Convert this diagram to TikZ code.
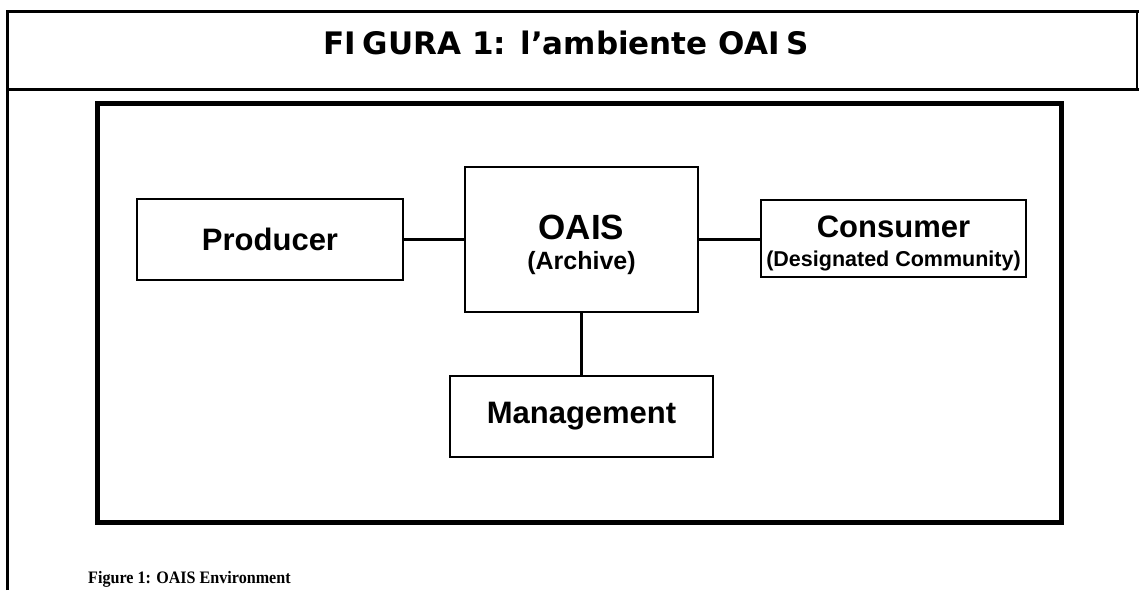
\documentclass[tikz,border=0pt]{standalone}
\usepackage{fontspec}
\usetikzlibrary{shadows}
\newfontfamily\arialf{Liberation Sans}
\newfontfamily\verdf{DejaVu Sans}
\newfontfamily\timesf{Liberation Serif}
\tikzset{
  box/.style={draw=black, line width=2.6pt, fill=white, inner sep=0pt,
    drop shadow={shadow xshift=1.2pt, shadow yshift=-1.2pt, fill=black, opacity=1}},
  conn/.style={draw=black, line width=2.6pt},
  rule/.style={draw=black, line width=3pt},
  lbl/.style={inner sep=0pt, anchor=center, font=\arialf\bfseries\fontsize{31}{31}\selectfont},
  sublbl/.style={inner sep=0pt, anchor=center, font=\arialf\bfseries\fontsize{25}{25}\selectfont},
}
\begin{document}
\begin{tikzpicture}[x=1pt,y=-1pt]
\useasboundingbox (0,0) rectangle (1139,590);
% page frame
\coordinate (tl) at (7,11);
\coordinate (tr) at (1139,11);
\coordinate (bl) at (7,590);
\coordinate (hl) at (7,89);
\coordinate (hr) at (1139,89);
\coordinate (rt) at (1137,11);
\coordinate (rb) at (1137,89);
\draw[rule] (bl) -- (tl) -- (tr);
\draw[rule] (hl) -- (hr);
\draw[rule, line width=2.5pt] (rt) -- (rb);
\node[inner sep=0pt] (title) at (566,43) {\verdf\bfseries\fontsize{31}{31}\selectfont FI\kern0.22em GURA 1: l’ambiente OAI\kern0.22em S};
% inner frame
\draw[draw=black, line width=5pt] (97,103) rectangle (1061,522);
% boxes
\node[box, minimum width=266pt, minimum height=81pt] (prod) at (270,239.5) {};
\node[box, minimum width=233pt, minimum height=145pt] (oais) at (581.5,239.5) {};
\node[box, minimum width=265pt, minimum height=77pt] (cons) at (893.5,238.5) {};
\node[box, minimum width=263pt, minimum height=81pt] (mgmt) at (581.5,416.5) {};
% labels
\node[lbl] (prodT) at (prod.center) {Producer};
\node[lbl, font=\arialf\bfseries\fontsize{35}{35}\selectfont] (oaisT) at (581.5,227) {OAIS};
\node[sublbl] (oaisS) at (581.5,263) {(Archive)};
\node[lbl] (consT) at (893.5,227) {Consumer};
\node[sublbl, font=\arialf\bfseries\fontsize{21.5}{21.5}\selectfont] (consS) at (893.5,261) {(Designated Community)};
\node[lbl] (mgmtT) at (mgmt.center) {Management};
% connectors
\draw[conn] (prod.east) -- (prod.east -| oais.west);
\draw[conn] (oais.east) -- (oais.east -| cons.west);
\draw[conn] (oais.south) -- (mgmt.north);
% caption
\node[inner sep=0pt, anchor=base west] (cap) at (88,583) {\scalebox{0.92}[1]{\timesf\bfseries\fontsize{17.5}{17.5}\selectfont Figure 1: OAIS Environment}};
\end{tikzpicture}
\end{document}
